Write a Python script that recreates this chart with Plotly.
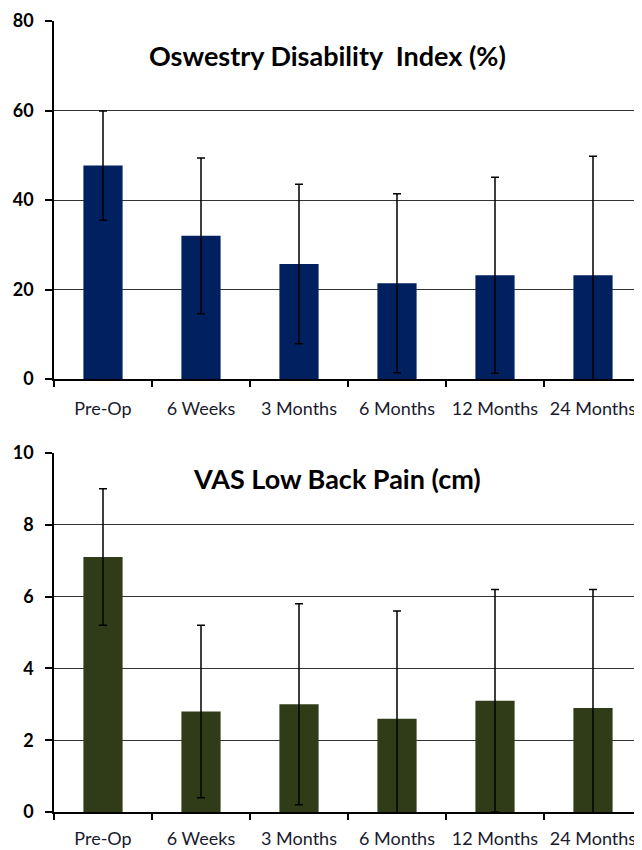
import plotly.graph_objects as go

categories = ["Pre-Op", "6 Weeks", "3 Months", "6 Months", "12 Months", "24 Months"]
odi_mean = [47.7, 32.0, 25.7, 21.4, 23.2, 23.2]
odi_sd = [12.2, 17.4, 17.8, 20.0, 21.9, 26.6]
vas_mean = [7.1, 2.8, 3.0, 2.6, 3.1, 2.9]
vas_sd = [1.9, 2.4, 2.8, 3.0, 3.1, 3.3]
odi_ticks = [0, 20, 40, 60, 80]
vas_ticks = [0, 2, 4, 6, 8, 10]

FONT = "Lato"

fig = go.Figure()
fig.add_trace(go.Bar(
    x=categories, y=odi_mean, marker=dict(color="#002060", line=dict(width=0)),
    error_y=dict(type="data", array=odi_sd, visible=True, color="black", thickness=1.5, width=4),
    xaxis="x", yaxis="y", showlegend=False))
fig.add_trace(go.Bar(
    x=categories, y=vas_mean, marker=dict(color="#303C17", line=dict(width=0)),
    error_y=dict(type="data", array=vas_sd, visible=True, color="black", thickness=1.5, width=4),
    xaxis="x2", yaxis="y2", showlegend=False))

xcommon = dict(showline=True, linecolor="black", linewidth=1.5, ticks="outside", tickson="boundaries",
               ticklen=6, tickcolor="black", tickwidth=1.5, showgrid=False,
               tickfont=dict(family=FONT, size=18, color="#1a1a2e"))
ycommon = dict(showline=True, linecolor="black", linewidth=1.5, ticks="outside", ticklen=7,
               tickcolor="black", tickwidth=1.5, showgrid=True, gridcolor="#333333", gridwidth=1.3,
               zeroline=False, tickfont=dict(family=FONT, size=18, color="black", weight="bold"),
               ticklabelstandoff=8)

# page body has an 8px offset; figure placed so the plot lands at the reference pixels
fig.update_layout(
    width=634, height=842,
    margin=dict(l=46, r=0, t=13, b=38, autoexpand=False),
    paper_bgcolor="white", plot_bgcolor="white",
    bargap=0.6,
    xaxis=dict(domain=[0, 1], anchor="y", ticklabelstandoff=13, **xcommon),
    yaxis=dict(domain=[0.5474, 1], anchor="x", range=[0, 80], tickvals=odi_ticks, **ycommon),
    xaxis2=dict(domain=[0, 1], anchor="y2", ticklabelstandoff=10, **xcommon),
    yaxis2=dict(domain=[0, 0.4539], anchor="x2", range=[0, 10], tickvals=vas_ticks, **ycommon),
    annotations=[
        dict(text="<b>Oswestry Disability  Index (%)</b>", xref="paper", yref="paper",
             x=(327 - 54) / 588, y=(812 - 55) / 791, xanchor="center", yanchor="middle",
             showarrow=False, font=dict(family=FONT, size=27, color="black")),
        dict(text="<b>VAS Low Back Pain (cm)</b>", xref="paper", yref="paper",
             x=(337 - 54) / 588, y=(812 - 478) / 791, xanchor="center", yanchor="middle",
             showarrow=False, font=dict(family=FONT, size=27, color="black")),
    ],
)

fig.write_html("out.html")
